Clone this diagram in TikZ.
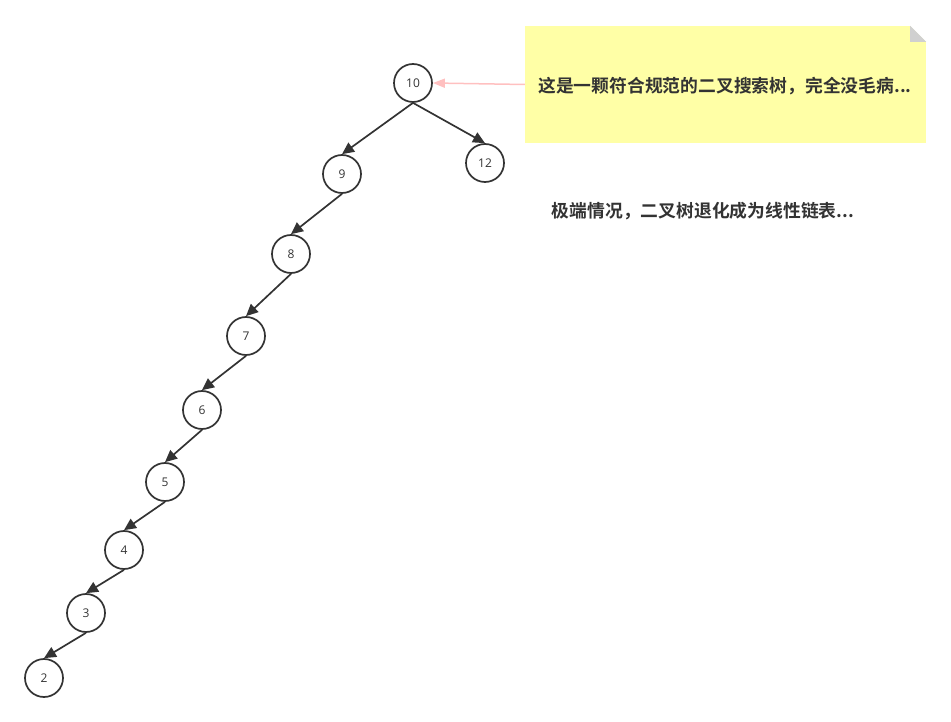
\documentclass[tikz,border=0pt]{standalone}
\usepackage{fontspec}
\setmainfont{Open Sans}
\newfontfamily\cjk{Noto Sans CJK SC}[BoldFont={* Bold}]
\usetikzlibrary{arrows.meta}
\definecolor{ink}{HTML}{333333}
\definecolor{notefill}{HTML}{FFFFA6}
\definecolor{fold}{HTML}{D0D0D0}
\definecolor{pinkline}{HTML}{FFC0C0}
\tikzset{>={Triangle[length=12pt,width=11pt]}}
\tikzset{
  key/.style={draw=ink, line width=1.7pt, circle, minimum size=38pt, inner sep=0pt,
    text=ink, font=\fontsize{12}{14}\selectfont},
  link/.style={->, draw=ink, line width=1.7pt},
  remark/.style={text=ink, font=\cjk\bfseries\fontsize{17.8}{20}\selectfont}
}
\begin{document}
\begin{tikzpicture}[x=1pt, y=-1pt]
\useasboundingbox (0,0) rectangle (951,722);
% tree nodes
\node[key] (k10) at (413, 83) {10};
\node[key] (k9)  at (342,174) {9};
\node[key] (k12) at (485,163) {12};
\node[key] (k8)  at (291,254) {8};
\node[key] (k7)  at (246,336) {7};
\node[key] (k6)  at (202,410) {6};
\node[key] (k5)  at (165,482) {5};
\node[key] (k4)  at (124,550) {4};
\node[key] (k3)  at (86,613)  {3};
\node[key] (k2)  at (44,678)  {2};
% edges
\draw[link] (k10.south) -- (k9.north);
\draw[link] (k10.south) -- (k12.north);
\draw[link] (k9.south) -- (k8.north);
\draw[link] (k8.south) -- (k7.north);
\draw[link] (k7.south) -- (k6.north);
\draw[link] (k6.south) -- (k5.north);
\draw[link] (k5.south) -- (k4.north);
\draw[link] (k4.south) -- (k3.north);
\draw[link] (k3.south) -- (k2.north);
% note
\node[fill=notefill, minimum width=401pt, minimum height=117pt, inner sep=0pt] (note) at (725.5,84.5) {};
\fill[white] (note.north east) ++(-16,0) -- (note.north east) -- ++(0,16) -- cycle;
\fill[fold] (note.north east) ++(-16,0) -- ++(0,16) -- ++(16,0) -- cycle;
\node[remark] (tnote) at (725,86) {这是一颗符合规范的二叉搜索树，完全没毛病...};
\draw[->, >={Triangle[length=12pt,width=9pt]}, pinkline, line width=1.5pt] (note.west) -- (k10.east);
\node[remark] (tlist) at (703,211) {极端情况，二叉树退化成为线性链表...};
\end{tikzpicture}
\end{document}
